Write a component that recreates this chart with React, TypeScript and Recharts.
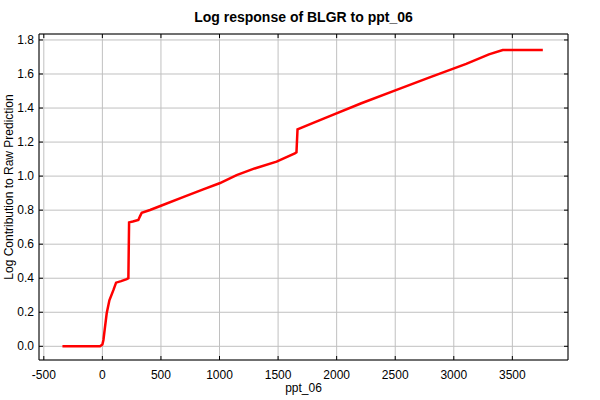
import React from 'react';
import { LineChart, Line, XAxis, YAxis, CartesianGrid, ReferenceArea } from 'recharts';

const xValues = [
  -341, -20, 0, 9, 20, 37, 60, 94, 117, 160, 208, 222, 228, 260, 307, 322, 336, 407, 500,
  700, 861, 1000, 1146, 1300, 1487, 1643, 1657, 1666, 1800, 1941, 2211, 2495, 2794, 3106,
  3300, 3418, 3760,
];
const yValues = [
  0, 0, 0.01, 0.037, 0.1, 0.194, 0.27, 0.33, 0.374, 0.383, 0.395, 0.4, 0.728, 0.733, 0.742,
  0.765, 0.785, 0.801, 0.826, 0.879, 0.922, 0.958, 1.006, 1.045, 1.085, 1.134, 1.14, 1.275,
  1.313, 1.353, 1.428, 1.502, 1.58, 1.659, 1.715, 1.741, 1.741,
];
const xTicks = [-500, 0, 500, 1000, 1500, 2000, 2500, 3000, 3500];
const yTicks = [0, 0.2, 0.4, 0.6, 0.8, 1.0, 1.2, 1.4, 1.6, 1.8];
const xDomain: [number, number] = [-541, 3975];
const yDomain: [number, number] = [-0.0805, 1.835];

const title = 'Log response of BLGR to ppt_06';
const xLabel = 'ppt_06';
const yLabel = 'Log Contribution to Raw Prediction';

const data = xValues.map((x, i) => ({ x, y: yValues[i] }));

const W = 600;
const H = 400;
const MARGIN = { top: 34, right: 32, left: 0, bottom: 0 };
const Y_W = 39;
const X_H = 40;
const PLOT_W = W - MARGIN.right - MARGIN.left - Y_W;
const PLOT_H = H - MARGIN.top - MARGIN.bottom - X_H;
const FONT = '"Liberation Sans", Arial, Helvetica, sans-serif';

const XTick = (props: any) => {
  const { x, y, payload } = props;
  const axisY = y - 10;
  return (
    <g>
      <line x1={x} x2={x} y1={axisY} y2={axisY - 4} stroke="#000" />
      <line x1={x} x2={x} y1={axisY - PLOT_H} y2={axisY - PLOT_H + 4} stroke="#000" />
      <text x={x} y={y + 9} textAnchor="middle" fontSize={12} fontFamily={FONT} fill="#000">
        {payload.value}
      </text>
    </g>
  );
};

const YTick = (props: any) => {
  const { x, y, payload } = props;
  const axisX = x + 5;
  return (
    <g>
      <line x1={axisX} x2={axisX + 4} y1={y} y2={y} stroke="#000" />
      <line x1={axisX + PLOT_W} x2={axisX + PLOT_W - 4} y1={y} y2={y} stroke="#000" />
      <text x={x} y={y + 4} textAnchor="end" fontSize={12} fontFamily={FONT} fill="#000">
        {Number(payload.value).toFixed(1)}
      </text>
    </g>
  );
};

export default function App() {
  return (
    <div style={{ position: 'absolute', left: 0, top: 0, width: W, height: H, background: '#fff' }}>
      <LineChart width={W} height={H} data={data} margin={MARGIN}>
        <CartesianGrid stroke="#c0c0c0" strokeWidth={1} />
        <XAxis
          dataKey="x"
          type="number"
          domain={xDomain}
          ticks={xTicks}
          allowDataOverflow
          height={X_H}
          tickSize={0}
          tickMargin={10}
          tickLine={false}
          axisLine={false}
          tick={<XTick />}
          interval={0}
        />
        <YAxis
          type="number"
          domain={yDomain}
          ticks={yTicks}
          allowDataOverflow
          width={Y_W}
          tickSize={0}
          tickMargin={5}
          tickLine={false}
          axisLine={false}
          tick={<YTick />}
          interval={0}
        />
        <ReferenceArea
          x1={xDomain[0]}
          x2={xDomain[1]}
          y1={yDomain[0]}
          y2={yDomain[1]}
          fill="none"
          fillOpacity={0}
          stroke="#000"
          strokeWidth={1}
          ifOverflow="visible"
        />
        <Line
          type="linear"
          dataKey="y"
          stroke="#ff0000"
          strokeWidth={2.5}
          dot={false}
          isAnimationActive={false}
        />
      </LineChart>
      <svg
        width={W}
        height={H}
        style={{ position: 'absolute', left: 0, top: 0, pointerEvents: 'none' }}
      >
        <text x={303.5} y={22} textAnchor="middle" fontSize={14} fontWeight="bold" fontFamily={FONT} fill="#000">
          {title}
        </text>
        <text x={303.5} y={392} textAnchor="middle" fontSize={12} fontFamily={FONT} fill="#000">
          {xLabel}
        </text>
        <text
          x={13}
          y={187}
          textAnchor="middle"
          fontSize={12}
          fontFamily={FONT}
          fill="#000"
          transform="rotate(-90 13 187)"
        >
          {yLabel}
        </text>
      </svg>
    </div>
  );
}
